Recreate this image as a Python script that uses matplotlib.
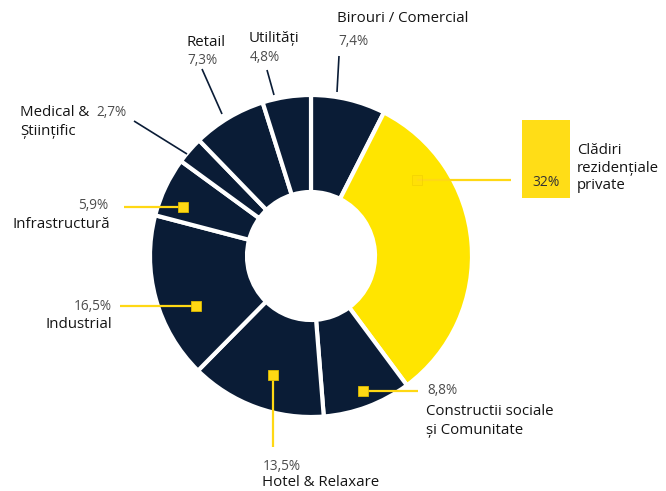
import matplotlib.pyplot as plt
from matplotlib.patches import Rectangle

plt.rcParams['font.family'] = ['Open Sans', 'DejaVu Sans']

# data
sectors = ["Birouri / Comercial", "Clădiri\nrezidențiale\nprivate",
           "Constructii sociale\nși Comunitate", "Hotel & Relaxare", "Industrial",
           "Infrastructură", "Medical &\nȘtiințific", "Retail", "Utilități"]
shares = [7.4, 32, 8.8, 13.5, 16.5, 5.9, 2.7, 7.3, 4.8]
highlight = [False, True, False, False, False, False, False, False, False]

NAVY = "#0a1c36"
YELLOW = "#ffe500"
LEADER_Y = "#ffd814"
TXT = "#141414"
GRAY = "#4d4d4d"
PCT_SIZE = 9.8

W, H = 666, 491


def fmt(v):
    if float(v).is_integer():
        return f"{int(v)}%"
    return f"{v:.1f}".replace(".", ",") + "%"


def P(x, y):
    # pixel (top-left origin) -> data coords
    return x, H - y


fig = plt.figure(figsize=(W / 100, H / 100), dpi=100)
ax = fig.add_axes([0, 0, 1, 1])

colors = [YELLOW if h else NAVY for h in highlight]
ax.pie(shares, colors=colors, startangle=90, counterclock=False,
       radius=161, center=P(311, 256),
       wedgeprops=dict(width=97, edgecolor="white", linewidth=3))

ax.set_xlim(0, W)
ax.set_ylim(0, H)
ax.set_aspect("equal")
ax.axis("off")

pct = [fmt(v) for v in shares]


def dark_line(a, b):
    ax.plot(*zip(P(*a), P(*b)), color=NAVY, lw=1.2, solid_capstyle="butt")


def yellow_leader(a, b, marker_alpha=1.0):
    ax.plot(*zip(P(*a), P(*b)), color=LEADER_Y, lw=1.6, solid_capstyle="butt", zorder=3)
    ax.plot(*P(*a), marker="s", ms=7, color=LEADER_Y, mec="#e0bc00", mew=0.6,
            alpha=marker_alpha, zorder=4)


def label(x, y, s, size=10.8, color=TXT, ha="left", va="center", **kw):
    ax.text(*P(x, y), s, fontsize=size, color=color, ha=ha, va=va, **kw)


# Birouri / Comercial
label(337, 18, sectors[0])
label(338, 41, pct[0], size=PCT_SIZE, color=GRAY)
dark_line((339, 56), (337, 92))

# Utilitati
label(249, 38, sectors[8])
label(250, 57, pct[8], size=PCT_SIZE, color=GRAY)
dark_line((267, 70), (274, 95))

# Retail
label(186, 42, sectors[7])
label(187, 60, pct[7], size=PCT_SIZE, color=GRAY)
dark_line((202, 69), (222, 114))

# Medical & Stiintific
label(20, 122, sectors[6], linespacing=1.3)
label(96, 112, pct[6], size=PCT_SIZE, color=GRAY)
dark_line((134, 121), (187, 154))

# Infrastructura
label(108, 205, pct[5], size=PCT_SIZE, color=GRAY, ha="right")
label(110, 224, sectors[5], ha="right")
yellow_leader((183, 207), (124, 207))

# Industrial
label(112, 306, pct[4], size=PCT_SIZE, color=GRAY, ha="right")
label(112, 324, sectors[4], ha="right")
yellow_leader((196, 306), (120, 306))

# Hotel & Relaxare
yellow_leader((273, 375), (273, 447))
label(263, 466, pct[3], size=PCT_SIZE, color=GRAY)
label(262, 483, sectors[3])

# Constructii sociale
yellow_leader((363, 391), (418, 391))
label(427, 391, pct[2], size=PCT_SIZE, color=GRAY)
label(426, 421, sectors[2], linespacing=1.3)

# Cladiri rezidentiale private
yellow_leader((417, 180), (511, 180), marker_alpha=0.35)
bx, by = P(522, 198)
ax.add_patch(Rectangle((bx, by), 48, 78, color="#ffdd17", lw=0, zorder=3))
label(546, 182, pct[1], size=10, color="#333333", ha="center", zorder=5)
label(577, 168, sectors[1], linespacing=1.25)

fig.savefig("out.png", dpi=100)
